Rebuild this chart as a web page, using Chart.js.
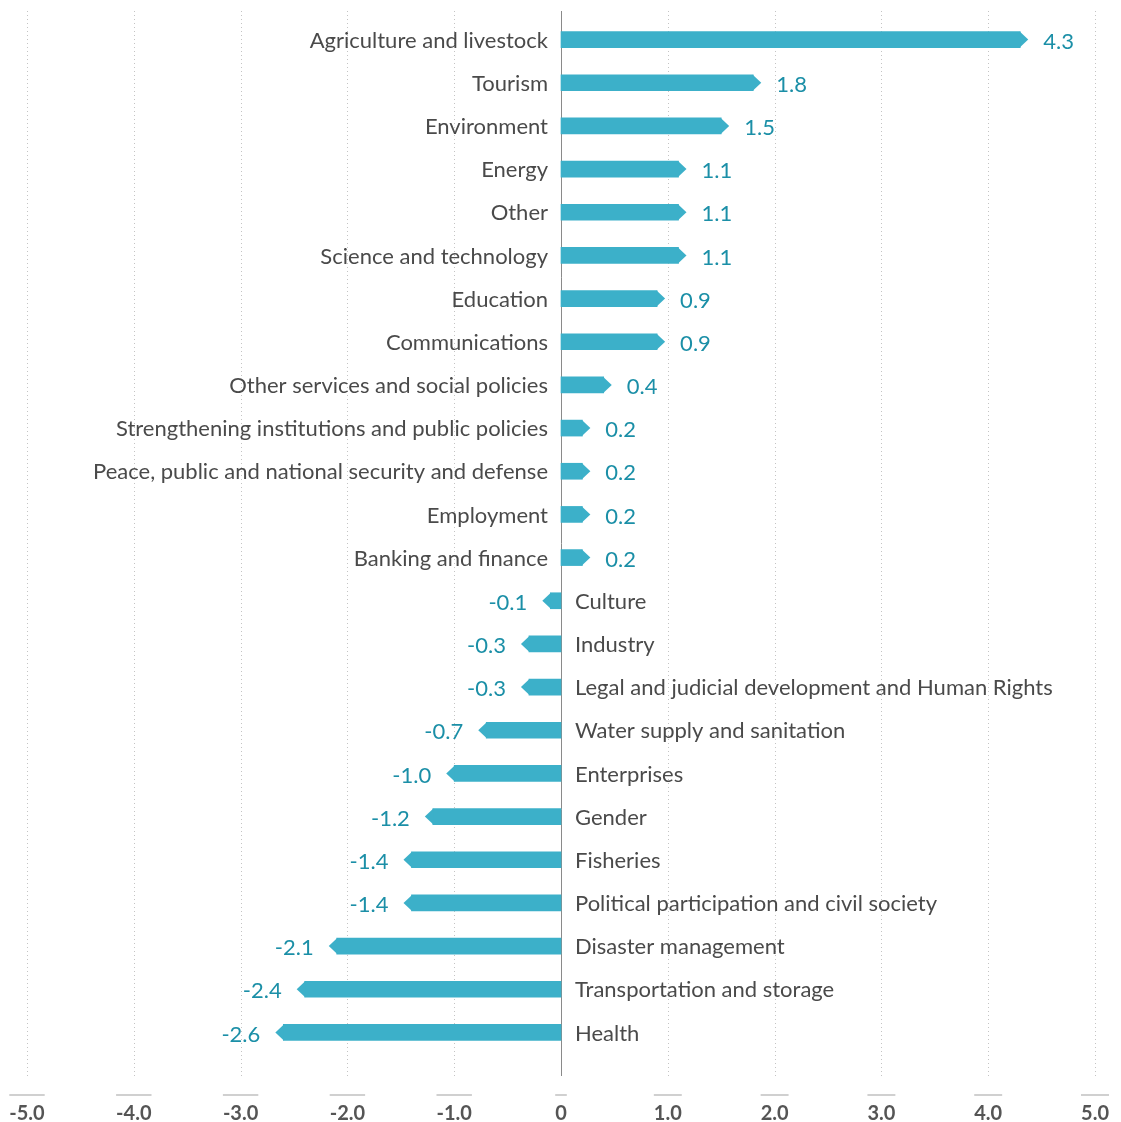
<!DOCTYPE html>
<html lang="en">
<head>
    <meta charset="UTF-8">
    <title>Change by sector</title>
    <script src="https://cdn.jsdelivr.net/npm/chart.js"></script>
    <style>
        body {
            margin: 0;
            background-color: #fff;
        }
        #sectorChart {
            display: block;
        }
    </style>
</head>
<body>
    <canvas id="sectorChart" width="1121" height="1122"></canvas>

    <script>
        const sectors = [
            'Agriculture and livestock',
            'Tourism',
            'Environment',
            'Energy',
            'Other',
            'Science and technology',
            'Education',
            'Communications',
            'Other services and social policies',
            'Strengthening institutions and public policies',
            'Peace, public and national security and defense',
            'Employment',
            'Banking and finance',
            'Culture',
            'Industry',
            'Legal and judicial development and Human Rights',
            'Water supply and sanitation',
            'Enterprises',
            'Gender',
            'Fisheries',
            'Political participation and civil society',
            'Disaster management',
            'Transportation and storage',
            'Health'
        ];
        const changes = [4.3, 1.8, 1.5, 1.1, 1.1, 1.1, 0.9, 0.9, 0.4, 0.2, 0.2, 0.2, 0.2,
            -0.1, -0.3, -0.3, -0.7, -1.0, -1.2, -1.4, -1.4, -2.1, -2.4, -2.6];
        const axisMin = -5;
        const axisMax = 5;

        const barColor = '#3cb0c9';
        const valueColor = '#1b8fa7';
        const textColor = '#4a4a4a';
        const TIP = 8;

        // dotted grid + solid zero line, drawn a bit beyond the chart area
        const gridPlugin = {
            id: 'gridLines',
            beforeDatasetsDraw(chart) {
                const ctx = chart.ctx;
                const x = chart.scales.x;
                const area = chart.chartArea;
                const top = area.top - 7;
                const bottom = area.bottom + 22;
                ctx.save();
                ctx.lineWidth = 1;
                ctx.strokeStyle = '#c4c4c4';
                ctx.setLineDash([1, 3]);
                for (let v = axisMin; v <= axisMax; v++) {
                    if (v === 0) continue;
                    const px = Math.round(x.getPixelForValue(v)) + 0.5;
                    ctx.beginPath();
                    ctx.moveTo(px, top);
                    ctx.lineTo(px, bottom);
                    ctx.stroke();
                }
                ctx.setLineDash([]);
                ctx.strokeStyle = '#8a8a8a';
                const zx = Math.round(x.getPixelForValue(0)) + 0.5;
                ctx.beginPath();
                ctx.moveTo(zx, top);
                ctx.lineTo(zx, bottom);
                ctx.stroke();
                ctx.restore();
            }
        };

        // arrow tips, sector names and value labels
        const labelPlugin = {
            id: 'barLabels',
            afterDatasetsDraw(chart) {
                const ctx = chart.ctx;
                const zero = chart.scales.x.getPixelForValue(0);
                const bars = chart.getDatasetMeta(0).data;
                ctx.save();
                bars.forEach((bar, i) => {
                    const v = changes[i];
                    const dir = v >= 0 ? 1 : -1;
                    const h = bar.height;
                    ctx.fillStyle = barColor;
                    ctx.beginPath();
                    ctx.moveTo(bar.x - dir * 0.5, bar.y - h / 2);
                    ctx.lineTo(bar.x + dir * TIP, bar.y);
                    ctx.lineTo(bar.x - dir * 0.5, bar.y + h / 2);
                    ctx.closePath();
                    ctx.fill();

                    ctx.textBaseline = 'middle';
                    ctx.font = '22px Lato';
                    ctx.fillStyle = valueColor;
                    ctx.textAlign = dir > 0 ? 'left' : 'right';
                    ctx.fillText(v.toFixed(1), bar.x + dir * (TIP + 15), bar.y + 2);

                    ctx.fillStyle = textColor;
                    ctx.textAlign = dir > 0 ? 'right' : 'left';
                    ctx.fillText(sectors[i], dir > 0 ? zero - 13 : zero + 14, bar.y + 1);
                });
                ctx.restore();
            }
        };

        // short rule above each x tick label
        const tickRulePlugin = {
            id: 'tickRules',
            afterDraw(chart) {
                const ctx = chart.ctx;
                const x = chart.scales.x;
                const y = chart.chartArea.bottom + 41;
                ctx.save();
                ctx.font = 'bold 20px Lato';
                ctx.strokeStyle = '#d0d0d0';
                ctx.lineWidth = 2;
                x.ticks.forEach((t, i) => {
                    const w = ctx.measureText(tickText(t.value)).width;
                    const px = x.getPixelForTick(i);
                    ctx.beginPath();
                    ctx.moveTo(px - w / 2, y);
                    ctx.lineTo(px + w / 2, y);
                    ctx.stroke();
                });
                ctx.restore();
            }
        };

        function tickText(v) {
            return v === 0 ? '0' : v.toFixed(1);
        }

        const ctx = document.getElementById('sectorChart').getContext('2d');
        const sectorChart = new Chart(ctx, {
            type: 'bar',
            data: {
                labels: sectors,
                datasets: [{
                    data: changes,
                    backgroundColor: barColor,
                    borderWidth: 0,
                    barThickness: 16
                }]
            },
            options: {
                indexAxis: 'y',
                responsive: false,
                animation: false,
                layout: {
                    padding: { left: 27, right: 26, top: 18, bottom: -4 }
                },
                plugins: {
                    legend: { display: false },
                    tooltip: { enabled: false }
                },
                scales: {
                    x: {
                        min: axisMin,
                        max: axisMax,
                        grid: { display: false, drawTicks: true, tickLength: 48 },
                        border: { display: false },
                        ticks: {
                            stepSize: 1,
                            padding: 0,
                            maxRotation: 0,
                            color: '#555',
                            font: { family: 'Lato', size: 20, weight: 'bold' },
                            callback: v => tickText(v)
                        }
                    },
                    y: {
                        display: false
                    }
                }
            },
            plugins: [gridPlugin, labelPlugin, tickRulePlugin]
        });
    </script>
</body>
</html>
